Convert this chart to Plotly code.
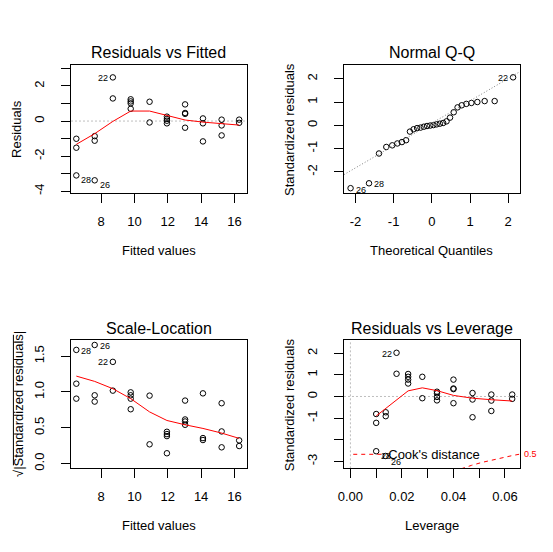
import plotly.graph_objects as go

W, H = 553, 552
FONT = "Liberation Sans, Arial, sans-serif"

# ---------------- data ----------------
# Residuals vs Fitted / Scale-Location share the fitted values
fitted = [6.52, 6.52, 6.52, 7.62, 7.62, 7.62, 8.71, 8.71, 9.78, 9.78,
          9.78, 9.78, 10.91, 10.91, 11.95, 11.95, 11.95, 11.95, 13.04, 13.04,
          13.04, 13.04, 14.11, 14.11, 14.11, 15.23, 15.23, 15.23, 16.28, 16.28]
residuals = [-1.01, -1.52, -3.10, -0.86, -1.12, -3.38, 2.49, 1.29, 1.24, 1.12,
             1.01, 0.70, 1.10, -0.08, 0.25, 0.12, 0.02, -0.13, 0.95, 0.46,
             0.41, -0.38, 0.15, -0.13, -1.16, 0.08, -0.25, -0.82, 0.08, -0.10]
sqrt_std_res = [0.907, 1.116, 1.588, 0.866, 0.954, 1.657, 1.421, 1.019, 0.995, 0.954,
                0.907, 0.759, 0.949, 0.269, 0.444, 0.412, 0.144, 0.384, 0.880, 0.616,
                0.588, 0.542, 0.356, 0.329, 0.981, 0.227, 0.449, 0.843, 0.324, 0.245]
leverage = [0.0100, 0.0100, 0.0100, 0.0137, 0.0137, 0.0137, 0.0179, 0.0179, 0.0224, 0.0224,
            0.0224, 0.0224, 0.0279, 0.0279, 0.0336, 0.0336, 0.0336, 0.0336, 0.0400, 0.0400,
            0.0400, 0.0400, 0.0474, 0.0474, 0.0474, 0.0547, 0.0547, 0.0547, 0.0628, 0.0628]
std_res = [-0.81, -1.22, -2.53, -0.73, -0.91, -2.75, 2.02, 1.05, 1.04, 0.91,
           0.78, 0.60, 0.91, -0.08, 0.22, 0.15, -0.02, -0.18, 0.78, 0.37,
           0.34, -0.31, 0.16, -0.14, -0.96, 0.09, -0.19, -0.67, 0.09, -0.11]
# labelled observations: index -> id
point_ids = {2: "28", 5: "26", 6: "22"}

# Normal Q-Q
qq_theoretical = [-2.128, -1.645, -1.383, -1.192, -1.036, -0.903, -0.783, -0.674, -0.573, -0.477,
                  -0.385, -0.297, -0.210, -0.126, -0.042, 0.042, 0.126, 0.210, 0.297, 0.385,
                  0.477, 0.573, 0.674, 0.783, 0.903, 1.036, 1.192, 1.383, 1.645, 2.128]
qq_sample = [-2.70, -2.49, -1.21, -0.93, -0.86, -0.78, -0.72, -0.64, -0.27, -0.17,
             -0.12, -0.10, -0.06, -0.03, -0.01, 0.01, 0.04, 0.07, 0.10, 0.17,
             0.33, 0.56, 0.77, 0.86, 0.92, 0.96, 1.00, 1.04, 1.04, 2.06]
qq_ids = {0: "26", 1: "28", 29: "22"}
qq_line_intercept = 0.09
qq_line_slope = 0.96

# red smoothers
smooth_fit_x = [6.52, 7.62, 8.71, 9.78, 10.91, 11.95, 13.04, 14.11, 15.23, 16.28]
smooth_resid_y = [-1.33, -0.72, -0.02, 0.57, 0.57, 0.30, 0.06, -0.06, -0.15, -0.23]
smooth_scale_y = [1.222, 1.148, 1.046, 0.907, 0.722, 0.602, 0.542, 0.491, 0.426, 0.352]
smooth_lev_x = [0.0100, 0.0137, 0.0179, 0.0224, 0.0279, 0.0336, 0.0400, 0.0474, 0.0547, 0.0628]
smooth_lev_y = [-0.90, -0.55, -0.15, 0.26, 0.40, 0.27, 0.05, -0.08, -0.15, -0.21]

# Cook's distance 0.5 contour (lower branch)
cook_h = [0.040, 0.043, 0.047, 0.051, 0.055, 0.059, 0.063, 0.066]
cook_r = [-3.464, -3.336, -3.184, -3.050, -2.931, -2.824, -2.727, -2.661]
cook_edge_value = -2.66

titles = ["Residuals vs Fitted", "Normal Q-Q", "Scale-Location", "Residuals vs Leverage"]
xtitles = ["Fitted values", "Theoretical Quantiles", "Fitted values", "Leverage"]
ytitles = ["Residuals", "Standardized residuals", "√|Standardized residuals|", "Standardized residuals"]

# ---------------- layout geometry (pixels) ----------------
boxes = {  # x0, x1, ytop, ybottom
    1: (65.7, 243.3, 65.0, 194.0),
    2: (341.7, 519.3, 65.0, 194.0),
    3: (65.7, 243.3, 341.7, 470.0),
    4: (341.7, 519.3, 341.7, 470.0),
}


def px(x):
    return x / W


def py(y):
    return 1 - y / H


fig = go.Figure()
RED = "#FF0000"
marker = dict(symbol="circle-open", size=5.5, color="black", line=dict(width=1, color="black"))

# panel 1
fig.add_trace(go.Scatter(x=fitted, y=residuals, mode="markers", marker=marker,
                         xaxis="x", yaxis="y", showlegend=False, hoverinfo="skip"))
fig.add_trace(go.Scatter(x=smooth_fit_x, y=smooth_resid_y, mode="lines",
                         line=dict(color=RED, width=1), xaxis="x", yaxis="y",
                         showlegend=False, hoverinfo="skip"))
# panel 2
fig.add_trace(go.Scatter(x=qq_theoretical, y=qq_sample, mode="markers", marker=marker,
                         xaxis="x2", yaxis="y2", showlegend=False, hoverinfo="skip"))
# panel 3
fig.add_trace(go.Scatter(x=fitted, y=sqrt_std_res, mode="markers", marker=marker,
                         xaxis="x3", yaxis="y3", showlegend=False, hoverinfo="skip"))
fig.add_trace(go.Scatter(x=smooth_fit_x, y=smooth_scale_y, mode="lines",
                         line=dict(color=RED, width=1), xaxis="x3", yaxis="y3",
                         showlegend=False, hoverinfo="skip"))
# panel 4
fig.add_trace(go.Scatter(x=leverage, y=std_res, mode="markers", marker=marker,
                         xaxis="x4", yaxis="y4", showlegend=False, hoverinfo="skip"))
fig.add_trace(go.Scatter(x=smooth_lev_x, y=smooth_lev_y, mode="lines",
                         line=dict(color=RED, width=1), xaxis="x4", yaxis="y4",
                         showlegend=False, hoverinfo="skip"))
fig.add_trace(go.Scatter(x=cook_h, y=cook_r, mode="lines", name="Cook's distance",
                         line=dict(color=RED, width=1, dash="4px,4px"),
                         xaxis="x4", yaxis="y4", showlegend=True, hoverinfo="skip"))

axis_common = dict(showline=True, linecolor="black", linewidth=1, mirror=True,
                   ticks="outside", ticklen=9, tickwidth=1, tickcolor="black",
                   showgrid=False, zeroline=False, fixedrange=True,
                   tickfont=dict(family=FONT, size=13, color="black"))

xranges = {1: [6.20, 16.73], 2: [-2.30, 2.30], 3: [6.20, 16.73], 4: [-0.0025, 0.0657]}
yranges = {1: [-4.12, 3.21], 2: [-2.92, 2.60], 3: [-0.066, 1.72], 4: [-3.32, 2.59]}
xticks = {
    1: ([8, 10, 12, 14, 16], ["8", "10", "12", "14", "16"]),
    2: ([-2, -1, 0, 1, 2], ["-2", "-1", "0", "1", "2"]),
    3: ([8, 10, 12, 14, 16], ["8", "10", "12", "14", "16"]),
    4: ([0.00, 0.01, 0.02, 0.03, 0.04, 0.05, 0.06], ["0.00", "", "0.02", "", "0.04", "", "0.06"]),
}
yticks = {
    1: ([-4, -3, -2, -1, 0, 1, 2, 3], ["-4", "", "-2", "", "0", "", "2", ""]),
    2: ([-2, -1, 0, 1, 2], ["-2", "-1", "0", "1", "2"]),
    3: ([0.0, 0.5, 1.0, 1.5], ["0.0", "0.5", "1.0", "1.5"]),
    4: ([-3, -2, -1, 0, 1, 2], ["-3", "", "-1", "0", "1", "2"]),
}

layout_axes = {}
for k in range(1, 5):
    x0, x1, yt, yb = boxes[k]
    sx = "" if k == 1 else str(k)
    layout_axes["xaxis" + sx] = dict(axis_common, domain=[px(x0), px(x1)], range=xranges[k],
                                     anchor="y" + sx, tickmode="array",
                                     tickvals=xticks[k][0], ticktext=xticks[k][1],
                                     ticklabelstandoff=7)
    layout_axes["yaxis" + sx] = dict(axis_common, domain=[py(yb), py(yt)], range=yranges[k],
                                     anchor="x" + sx, tickmode="array",
                                     tickvals=yticks[k][0], ticktext=yticks[k][1],
                                     tickangle=-90, ticklabelstandoff=12)

annotations = []
for k in range(1, 5):
    x0, x1, yt, yb = boxes[k]
    cx = (x0 + x1) / 2
    title_y = yt - 12.2
    annotations.append(dict(text=titles[k - 1], x=px(cx), y=py(title_y), xref="paper", yref="paper",
                            xanchor="center", yanchor="middle", showarrow=False,
                            font=dict(family=FONT, size=16, color="black")))
    annotations.append(dict(text=xtitles[k - 1], x=px(cx), y=py(yb + 57), xref="paper", yref="paper",
                            xanchor="center", yanchor="middle", showarrow=False,
                            font=dict(family=FONT, size=13, color="black")))
    ytx = x0 - 55.7 if k != 3 else x0 - 53.0
    annotations.append(dict(text=ytitles[k - 1], x=px(ytx), y=py((yt + yb) / 2), xref="paper",
                            yref="paper", xanchor="center", yanchor="middle", textangle=-90,
                            showarrow=False, font=dict(family=FONT, size=13, color="black")))

LABEL_FONT = dict(family=FONT, size=9, color="black")


def add_label(xv, yv, txt, xr, yr, side, dy):
    annotations.append(dict(text=txt, x=xv, y=yv, xref=xr, yref=yr, showarrow=False,
                            xanchor="left" if side == "right" else "right",
                            xshift=3 if side == "right" else -3, yshift=dy,
                            yanchor="middle", font=LABEL_FONT))


shift1 = {"22": ("left", -1), "28": ("right", -5), "26": ("right", -5)}
shift3 = {"22": ("left", 0), "28": ("right", -1), "26": ("right", -1)}
shift4 = {"22": ("left", -1), "28": ("right", -5), "26": ("right", -6)}
shift2 = {"22": ("left", -1), "28": ("right", -1), "26": ("right", -2)}
for i, lab in point_ids.items():
    s, d = shift1[lab]
    add_label(fitted[i], residuals[i], lab, "x", "y", s, d)
    s, d = shift3[lab]
    add_label(fitted[i], sqrt_std_res[i], lab, "x3", "y3", s, d)
    s, d = shift4[lab]
    add_label(leverage[i], std_res[i], lab, "x4", "y4", s, d)
for i, lab in qq_ids.items():
    s, d = shift2[lab]
    add_label(qq_theoretical[i], qq_sample[i], lab, "x2", "y2", s, d)

annotations.append(dict(text="0.5", x=1, y=cook_edge_value, xref="x4 domain", yref="y4",
                        xanchor="left", xshift=2, yanchor="middle", showarrow=False,
                        font=dict(family=FONT, size=9, color=RED)))

GRAY_DOT = dict(color="#BEBEBE", width=1, dash="2px,2px")
shapes = [
    dict(type="line", xref="x domain", yref="y", x0=0, x1=1, y0=0, y1=0, line=GRAY_DOT, layer="below"),
    dict(type="line", xref="x4 domain", yref="y4", x0=0, x1=1, y0=0, y1=0, line=GRAY_DOT, layer="below"),
    dict(type="line", xref="x4", yref="y4 domain", x0=0, x1=0, y0=0, y1=1, line=GRAY_DOT, layer="below"),
    dict(type="line", xref="x2", yref="y2",
         x0=xranges[2][0], x1=xranges[2][1],
         y0=qq_line_intercept + qq_line_slope * xranges[2][0],
         y1=qq_line_intercept + qq_line_slope * xranges[2][1],
         line=dict(color="#7F7F7F", width=1, dash="1px,2px")),
    # overbar of the square-root sign in the Scale-Location axis title
    dict(type="line", xref="paper", yref="paper", x0=px(7.5), x1=px(7.5), y0=py(467), y1=py(336),
         line=dict(color="black", width=1)),
]

fig.update_layout(
    width=W, height=H, margin=dict(l=0, r=0, t=0, b=0),
    paper_bgcolor="white", plot_bgcolor="white",
    font=dict(family=FONT, size=13, color="black"),
    showlegend=True,
    legend=dict(x=px(346), y=py(456), xanchor="left", yanchor="middle",
                bgcolor="rgba(0,0,0,0)", borderwidth=0,
                font=dict(family=FONT, size=13, color="black")),
    annotations=annotations, shapes=shapes,
    **layout_axes,
)

fig.write_html("out.html")
